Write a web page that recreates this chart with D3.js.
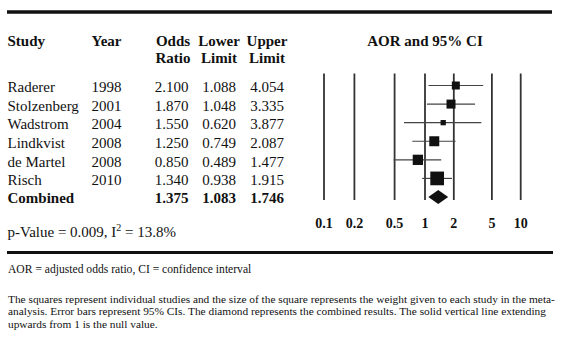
<!DOCTYPE html>
<html><head><meta charset="utf-8">
<script src="https://cdn.jsdelivr.net/npm/d3@7"></script>
<style>
html,body{margin:0;padding:0;background:#fff;}
svg{display:block;}
text{font-family:"Liberation Serif","Times New Roman",serif;fill:#111;}
</style></head>
<body><div id="chart"></div>
<script>
const studies = ["Raderer","Stolzenberg","Wadstrom","Lindkvist","de Martel","Risch"];
const years = ["1998","2001","2004","2008","2008","2010"];
const oddsRatio = [2.100,1.870,1.550,1.250,0.850,1.340];
const lowerLimit = [1.088,1.048,0.620,0.749,0.489,0.938];
const upperLimit = [4.054,3.335,3.877,2.087,1.477,1.915];
const weights = [11.3,14.3,4.9,17.6,18.7,33.2];
const combinedLabel = "Combined";
const combined = {or:1.375, lower:1.083, upper:1.746};
const axisTicks = [0.1,0.2,0.5,1,2,5,10];
const tickLabels = ["0.1","0.2","0.5","1","2","5","10"];
const headers = {study:"Study", year:"Year", or:["Odds","Ratio"], lower:["Lower","Limit"], upper:["Upper","Limit"]};
const plotTitle = "AOR and 95% CI";
const statText = "p-Value = 0.009, I";
const statSup = "2";
const statTail = " = 13.8%";
const footnote = "AOR = adjusted odds ratio, CI = confidence interval";
const caption = [
 "The squares represent individual studies and the size of the square represents the weight given to each study in the meta-",
 "analysis. Error bars represent 95% CIs. The diamond represents the combined results. The solid vertical line extending",
 "upwards from 1 is the null value."
];

const W=576,H=337;
const svg=d3.select("#chart").append("svg").attr("width",W).attr("height",H);
svg.append("rect").attr("width",W).attr("height",H).attr("fill","#fff");

const rows = studies.concat([combinedLabel]);
const y = d3.scalePoint().domain(rows).range([85.5,197]);
const x = d3.scaleLog().domain([0.1,1,10]).range([324,425,520.7]);
const size = d3.scaleSqrt().domain([0,d3.max(weights)]).range([0,13.7]);

// rules
svg.append("line").attr("x1",7).attr("x2",552).attr("y1",12).attr("y2",12).attr("stroke","#111").attr("stroke-width",3.5);
svg.append("line").attr("x1",7).attr("x2",553).attr("y1",252.5).attr("y2",252.5).attr("stroke","#111").attr("stroke-width",3);

// headers
const hb = svg.append("g").attr("font-weight","bold").attr("font-size",15);
hb.append("text").attr("x",7.5).attr("y",45.7).text(headers.study);
hb.append("text").attr("x",91.5).attr("y",45.7).text(headers.year);
const colX = {or:173, lower:219, upper:267};
["or","lower","upper"].forEach(k=>{
  headers[k].forEach((t,i)=>{
    hb.append("text").attr("x",colX[k]).attr("y",45.7+i*17).attr("text-anchor","middle").text(t);
  });
});
hb.append("text").attr("x",425).attr("y",45.7).attr("text-anchor","middle").text(plotTitle);

// rows
const fmt = d3.format(".3f");
const tg = svg.append("g").attr("font-size",15);
studies.forEach((s,i)=>{
  const by = y(s)+6.8;
  tg.append("text").attr("x",7.5).attr("y",by).text(s);
  tg.append("text").attr("x",91.5).attr("y",by).text(years[i]);
  tg.append("text").attr("x",colX.or-1.5).attr("y",by).attr("text-anchor","middle").text(fmt(oddsRatio[i]));
  tg.append("text").attr("x",colX.lower).attr("y",by).attr("text-anchor","middle").text(fmt(lowerLimit[i]));
  tg.append("text").attr("x",colX.upper).attr("y",by).attr("text-anchor","middle").text(fmt(upperLimit[i]));
});
const cy = y(combinedLabel)+6;
const cg = tg.append("g").attr("font-weight","bold");
cg.append("text").attr("x",7.5).attr("y",cy).text(combinedLabel);
cg.append("text").attr("x",colX.or-1.5).attr("y",cy).attr("text-anchor","middle").text(fmt(combined.or));
cg.append("text").attr("x",colX.lower).attr("y",cy).attr("text-anchor","middle").text(fmt(combined.lower));
cg.append("text").attr("x",colX.upper).attr("y",cy).attr("text-anchor","middle").text(fmt(combined.upper));

// stat text
const st = svg.append("text").attr("x",7.5).attr("y",236.7).attr("font-size",15);
st.append("tspan").text(statText);
st.append("tspan").attr("font-size",10).attr("dy",-6).text(statSup);
st.append("tspan").attr("dy",6).text(statTail);

// vertical reference lines
svg.append("g").selectAll("line").data(axisTicks).join("line")
  .attr("x1",d=>x(d)).attr("x2",d=>x(d)).attr("y1",73.5).attr("y2",200)
  .attr("stroke","#333").attr("stroke-width",1.8);
svg.append("g").attr("font-weight","bold").attr("font-size",14)
  .selectAll("text").data(axisTicks).join("text")
  .attr("x",d=>x(d)).attr("y",228).attr("text-anchor","middle").text((d,i)=>tickLabels[i]);

// CI lines and squares
const pg = svg.append("g");
studies.forEach((s,i)=>{
  pg.append("line").attr("x1",x(lowerLimit[i])).attr("x2",x(upperLimit[i]))
    .attr("y1",y(s)).attr("y2",y(s)).attr("stroke","#444").attr("stroke-width",1.2);
  const sz=size(weights[i]);
  pg.append("rect").attr("x",x(oddsRatio[i])-sz/2).attr("y",y(s)-sz/2)
    .attr("width",sz).attr("height",sz).attr("fill","#111");
});
const dy0=y(combinedLabel);
pg.append("path").attr("d",`M${x(combined.lower)},${dy0} L${x(combined.or)},${dy0-7} L${x(combined.upper)},${dy0} L${x(combined.or)},${dy0+7} Z`).attr("fill","#111");

// footnotes
svg.append("text").attr("x",8).attr("y",273.3).attr("font-size",11.6)
  .style("font-family","'Liberation Serif',serif").text(footnote);
svg.append("g").attr("font-size",11.35).style("font-family","'Liberation Serif',serif")
  .selectAll("text").data(caption).join("text")
  .attr("x",8).attr("y",(d,i)=>302.5+i*12.6).text(d=>d);
</script>
</body></html>
